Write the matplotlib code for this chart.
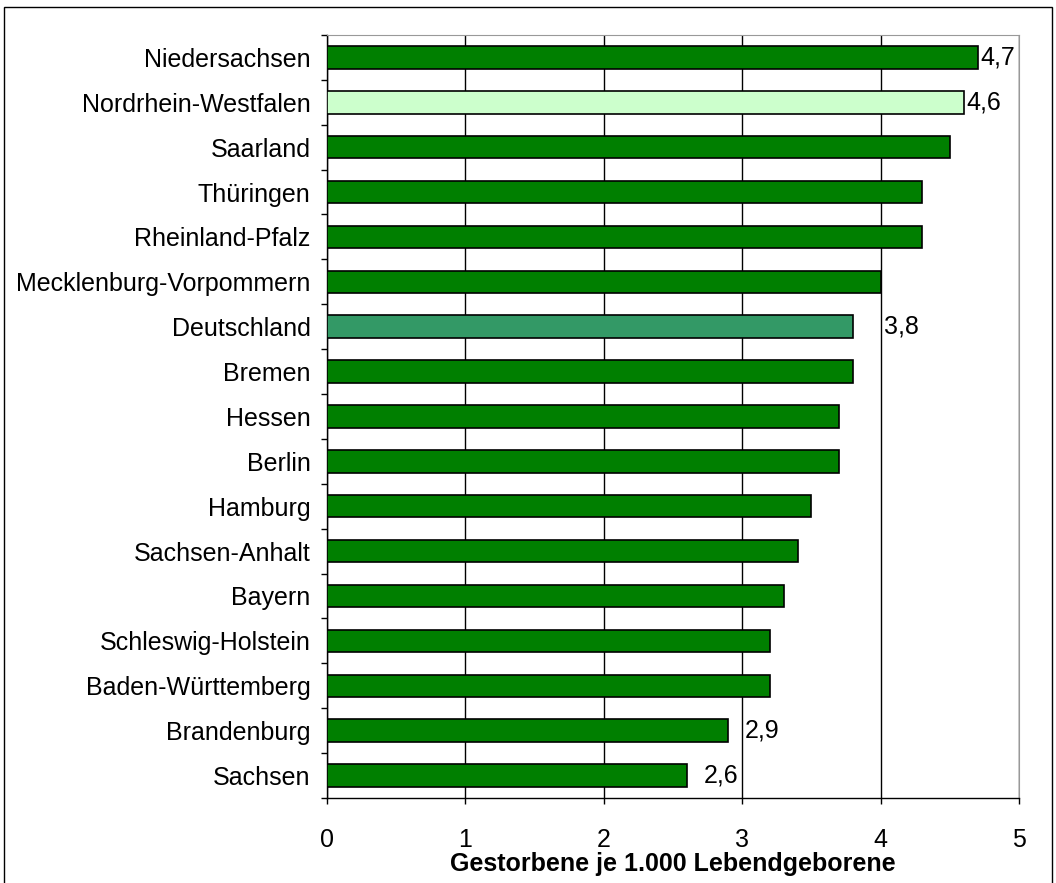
import numpy as np
import matplotlib.pyplot as plt
from matplotlib.patches import Rectangle

plt.rcParams['font.family'] = ['Liberation Sans', 'DejaVu Sans']

laender = ['Niedersachsen', 'Nordrhein-Westfalen', 'Saarland', 'Thüringen',
           'Rheinland-Pfalz', 'Mecklenburg-Vorpommern', 'Deutschland', 'Bremen',
           'Hessen', 'Berlin', 'Hamburg', 'Sachsen-Anhalt', 'Bayern',
           'Schleswig-Holstein', 'Baden-Württemberg', 'Brandenburg', 'Sachsen']
werte = [4.7, 4.6, 4.5, 4.3, 4.3, 4.0, 3.8, 3.8, 3.7, 3.7, 3.5, 3.4, 3.3,
         3.2, 3.2, 2.9, 2.6]
# labelled bars: index -> text
beschriftung = {0: '4,7', 1: '4,6', 6: '3,8', 15: '2,9', 16: '2,6'}
abstand = {0: 2, 1: 2, 6: 22, 15: 12, 16: 12}  # offset in points

farben = []
for name in laender:
    if name == 'Nordrhein-Westfalen':
        farben.append('#CCFFCC')
    elif name == 'Deutschland':
        farben.append('#339966')
    else:
        farben.append('#007F00')

fs = 18

fig = plt.figure(figsize=(10.56, 8.83), dpi=100)
ax = fig.add_axes([0.3097, 0.0963, 0.9650 - 0.3097, 0.9604 - 0.0963])

y = np.arange(len(laender))
ax.barh(y, werte, height=0.5, color=farben, edgecolor='black', linewidth=1.2, zorder=3)

for i, txt in beschriftung.items():
    ax.annotate(txt, (werte[i], y[i]), xytext=(abstand[i], 0), textcoords='offset points',
                ha='left', va='center', fontsize=fs)

ax.set_xlim(0, 5)
ax.set_ylim(len(laender) - 0.5, -0.5)
ax.set_xticks([0, 1, 2, 3, 4, 5])
ax.set_xticklabels(['0', '1', '2', '3', '4', '5'], fontsize=fs)
ax.set_yticks(y)
ax.set_yticklabels(laender, fontsize=fs)
ax.set_yticks(np.arange(-0.5, len(laender), 1), minor=True)
ax.tick_params(axis='y', which='major', length=0, pad=12)
ax.tick_params(axis='y', which='minor', length=4.5, direction='out', width=1)
ax.tick_params(axis='x', which='major', length=4.5, direction='out', width=1, pad=17)
ax.grid(axis='x', color='black', linewidth=1, zorder=0)

ax.spines['top'].set_color('#999999')
ax.spines['right'].set_color('#999999')
ax.spines['left'].set_linewidth(1)
ax.spines['bottom'].set_linewidth(1)

ax.set_xlabel('Gestorbene je 1.000 Lebendgeborene', fontsize=fs, fontweight='bold', labelpad=0)

fig.patches.append(Rectangle((4 / 1056, -0.01), 1048 / 1056, 1 - 7 / 883 + 0.01,
                             transform=fig.transFigure, fill=False, edgecolor='black',
                             linewidth=1))

fig.savefig('out.png', dpi=100)
